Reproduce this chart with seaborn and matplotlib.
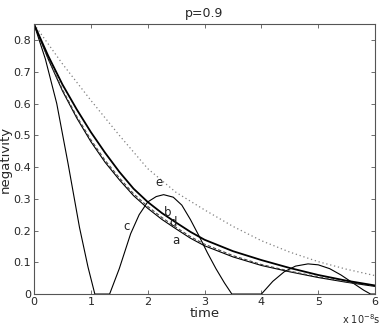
import numpy as np
import pandas as pd
import matplotlib
matplotlib.use("Agg")
import matplotlib.pyplot as plt
import seaborn as sns

# curve values (time in units of 1e-8 s)
t_a = [0, 0.25, 0.5, 0.75, 1, 1.25, 1.5, 1.75, 2, 2.25, 2.5, 2.75, 3, 3.5, 4, 4.5, 5, 5.5, 6]
neg_a = [0.85, 0.74, 0.64, 0.555, 0.48, 0.415, 0.36, 0.31, 0.27, 0.235, 0.205, 0.176, 0.152,
         0.117, 0.09, 0.07, 0.052, 0.037, 0.024]
neg_d = [0.85, 0.742, 0.644, 0.56, 0.486, 0.421, 0.366, 0.316, 0.276, 0.241, 0.21, 0.181, 0.157,
         0.121, 0.093, 0.072, 0.054, 0.039, 0.025]
neg_b = [0.85, 0.75, 0.66, 0.582, 0.51, 0.445, 0.385, 0.332, 0.29, 0.255, 0.225, 0.196, 0.171,
         0.135, 0.107, 0.082, 0.06, 0.042, 0.027]

t_e = [0, 0.5, 1, 1.5, 2, 2.5, 3, 3.5, 4, 4.5, 5, 5.5, 6]
neg_e = [0.85, 0.725, 0.61, 0.5, 0.395, 0.32, 0.265, 0.213, 0.168, 0.132, 0.102, 0.078, 0.058]

t_c = [0, 0.2, 0.4, 0.6, 0.8, 0.95, 1.07, 1.33, 1.5, 1.7, 1.85, 2.0, 2.15, 2.28, 2.45, 2.6,
       2.75, 2.92, 3.05, 3.2, 3.35, 3.48, 4.0, 4.2, 4.4, 4.6, 4.82, 5.0, 5.2, 5.4, 5.6, 5.8,
       5.92, 6.0]
neg_c = [0.85, 0.74, 0.6, 0.41, 0.21, 0.085, 0.0, 0.0, 0.08, 0.19, 0.25, 0.29, 0.307, 0.313,
         0.305, 0.28, 0.235, 0.177, 0.13, 0.08, 0.035, 0.0, 0.0, 0.04, 0.07, 0.088, 0.095,
         0.092, 0.08, 0.06, 0.036, 0.012, 0.0, 0.0]

labels = ["a", "b", "c", "d", "e"]
label_t = [2.5, 2.35, 1.63, 2.44, 2.2]
label_y = [0.169, 0.258, 0.213, 0.224, 0.351]

sns.set_style("ticks")
plt.rcParams["font.family"] = ["DejaVu Sans"]

fig = plt.figure(figsize=(3.82, 3.26), dpi=100)
ax = fig.add_axes([0.089, 0.098, 0.893, 0.828])

df_a = pd.DataFrame({"t": t_a, "a": neg_a, "b": neg_b, "d": neg_d})
df_e = pd.DataFrame({"t": t_e, "e": neg_e})
df_c = pd.DataFrame({"t": t_c, "c": neg_c})

sns.lineplot(data=df_e, x="t", y="e", ax=ax, color="#808080", lw=0.9, linestyle=(0, (1, 2.2)))
sns.lineplot(data=df_c, x="t", y="c", ax=ax, color="black", lw=0.8)
sns.lineplot(data=df_a, x="t", y="a", ax=ax, color="black", lw=0.8)
sns.lineplot(data=df_a, x="t", y="d", ax=ax, color="#444444", lw=0.8, linestyle=(0, (3, 2)))
sns.lineplot(data=df_a, x="t", y="b", ax=ax, color="black", lw=1.3)

for lab, tx, ty in zip(labels, label_t, label_y):
    ax.text(tx, ty, lab, fontsize=8.5, ha="center", va="center", color="#222222")

ax.set_xlim(0, 6)
ax.set_ylim(0, 0.85)
ax.set_xticks(range(7))
ax.set_yticks(np.arange(0, 0.81, 0.1))
ax.set_yticklabels(["0", "0.1", "0.2", "0.3", "0.4", "0.5", "0.6", "0.7", "0.8"])
ax.tick_params(direction="in", length=3, width=0.6, labelsize=8, top=True, right=True,
               pad=2, color="#555555")
for s in ax.spines.values():
    s.set_visible(True)
    s.set_linewidth(0.8)
    s.set_color("#555555")

ax.set_xlabel("time", fontsize=9.5, labelpad=0)
ax.set_ylabel("negativity", fontsize=9.5, labelpad=1)
ax.set_title("p=0.9", fontsize=9, pad=5)
fig.text(0.995, 0.022, r"x 10$^{-8}$s", fontsize=7, ha="right", va="center")

fig.savefig("out.png", dpi=100)
